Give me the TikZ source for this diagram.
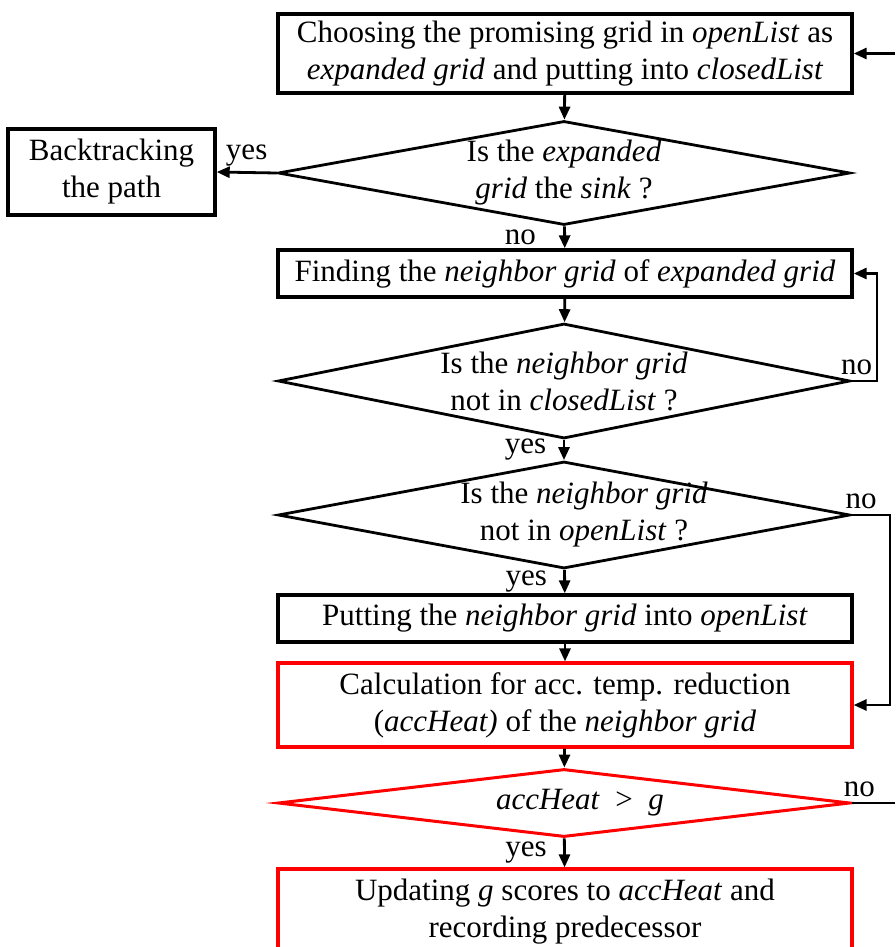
\documentclass[tikz,border=0pt]{standalone}
\usepackage{fontspec}
\setmainfont{Liberation Serif}
\usetikzlibrary{shapes.geometric, arrows.meta, positioning}
\definecolor{hotred}{RGB}{255, 0, 0}

\begin{document}
\begin{tikzpicture}[
  x=1pt, y=-1pt,
  font=\fontsize{31}{37}\selectfont,
  box/.style={draw, line width=3.4pt, minimum width=574pt, minimum height=47pt, align=center, inner sep=0pt},
  redbox/.style={box, draw=hotred, line width=3.2pt},
  decision/.style={draw, shape=diamond, aspect=5.5, inner sep=-30pt, line width=2.8pt, minimum width=572pt, minimum height=104pt, align=center},
  reddecision/.style={decision, draw=hotred, line width=3pt},
  arr/.style={line width=2.8pt, -{Triangle[length=13pt, width=11pt]}}
]
  \clip (0,0) rectangle (895,947);

  \node[box, minimum height=79pt] (choose) at (565,53.5) {
    Choosing the promising grid in \textit{openList} as\\
    \textit{expanded grid} and putting into \textit{closedList}
  };
  \node[decision] (sink) at (564,173) {Is the \textit{expanded}\\\textit{grid} the \textit{sink} ?};
  \node[box, minimum width=207pt, minimum height=86pt] (back) at (111.5,172) {Backtracking\\the path};
  \node[box] (neigh) at (565,273.5) {Finding the \textit{neighbor grid} of \textit{expanded grid}};
  \node[decision, minimum height=115pt] (notclosed) at (564,381) {Is the \textit{neighbor grid}\\not in \textit{closedList} ?};
  \node[decision, minimum height=107pt] (notopen) at (564,515) {\hspace*{40pt}Is the \textit{neighbor grid}\\\hspace*{40pt}not in \textit{openList} ?};
  \node[box] (putopen) at (565,618.5) {Putting the \textit{neighbor grid} into \textit{openList}};
  \node[redbox, minimum height=84pt] (calc) at (565,705) {
    Calculation for acc. temp. reduction\\
    (\textit{accHeat)} of the \textit{neighbor grid}
  };
  \node[reddecision, minimum height=68pt] (cmp) at (564,803) {\hspace*{32pt}\textit{accHeat} \ > \ \textit{g}};
  \node[redbox, minimum height=86pt] (update) at (565,912) {
    Updating \textit{g} scores to \textit{accHeat} and\\
    recording predecessor
  };

  \coordinate (entryR) at (895,53.5);
  \coordinate (exitR) at (895,803);
  \coordinate (loopA) at (877,381);
  \coordinate (loopB) at (890,515);

  \draw[arr] (entryR) -- (choose.east);
  \draw[arr] (choose) -- (sink);
  \draw[arr] (sink.west) -- node[above=2pt] {yes} (back.east);
  \draw[arr] (sink) -- node[left=24pt] {no} (neigh);
  \draw[arr] (neigh) -- (notclosed);
  \draw[arr] (notclosed.east) -- node[pos=0.2, above=1pt] {no} (loopA) |- (neigh.east);
  \draw[arr] (notclosed) -- node[left=13pt] {yes} (notopen);
  \draw[arr] (notopen.east) -- node[pos=0.25, above=1pt] {no} (loopB) |- (calc.east);
  \draw[arr] (notopen) -- node[left=13pt] {yes} (putopen);
  \draw[arr] (putopen) -- (calc);
  \draw[arr] (calc) -- (cmp);
  \draw[line width=2.8pt] (cmp.east) -- node[pos=0.18, above=1pt] {no} (exitR);
  \draw[arr] (cmp) -- node[left=13pt] {yes} (update);
\end{tikzpicture}
\end{document}
